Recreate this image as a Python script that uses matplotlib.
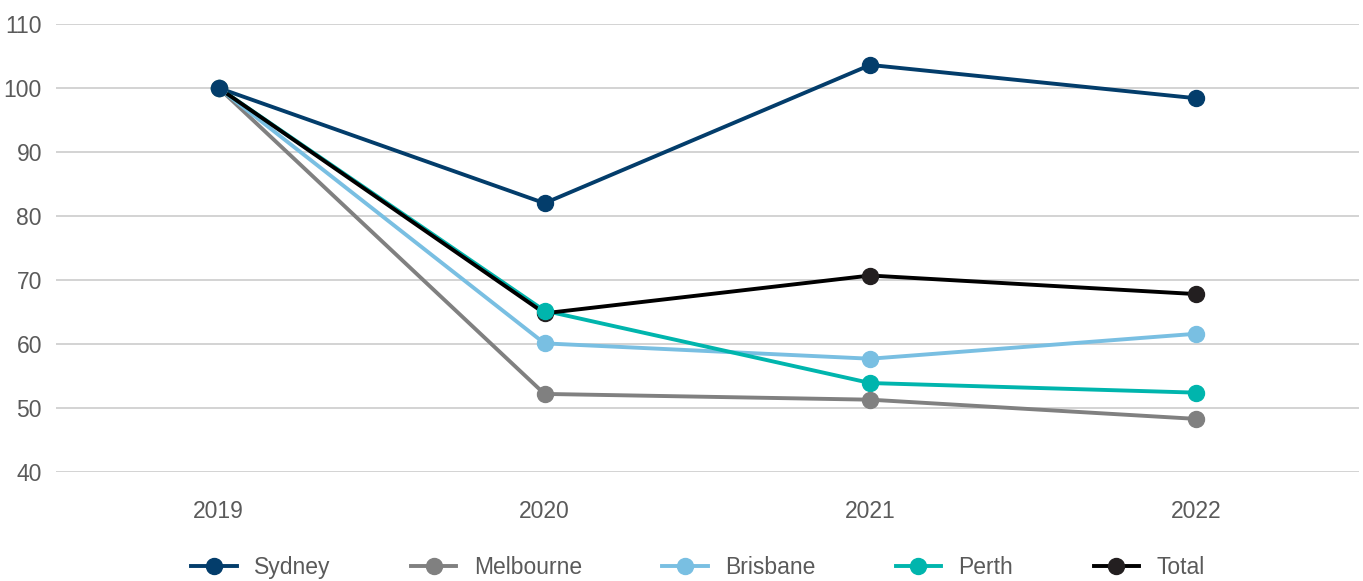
import matplotlib.pyplot as plt
import numpy as np

years = ['2019', '2020', '2021', '2022']
sydney = [100, 82.0, 103.6, 98.4]
melbourne = [100, 52.2, 51.3, 48.3]
brisbane = [100, 60.1, 57.7, 61.6]
perth = [100, 65.2, 53.9, 52.4]
total = [100, 64.8, 70.7, 67.8]

series = [('Sydney', sydney, '#033d6b', '#033d6b'),
          ('Melbourne', melbourne, '#808080', '#808080'),
          ('Brisbane', brisbane, '#79bfe2', '#79bfe2'),
          ('Perth', perth, '#00b5ad', '#00b5ad'),
          ('Total', total, '#000000', '#231f20')]

plt.rcParams['font.family'] = ['Liberation Sans', 'DejaVu Sans']
fig = plt.figure(figsize=(13.63, 5.81), dpi=100)
ax = fig.add_axes([0.041, 0.1876, 0.956, 0.7711])
x = np.arange(len(years))

handles = []
for i, (name, vals, lc, mc) in enumerate(series):
    ax.plot(x, vals, color=lc, lw=2.8, zorder=3 + i * 0.1, solid_capstyle='round')
for i, (name, vals, lc, mc) in enumerate(series):
    ax.plot(x, vals, ls='none', marker='o', ms=11.5, color=mc, zorder=5 - i * 0.1)
    h, = ax.plot([], [], color=lc, lw=2.8, marker='o', ms=11.5, mfc=mc, mec=mc)
    handles.append(h)

ax.set_xlim(-0.5, 3.5)
ax.set_ylim(40, 110)
ax.set_yticks(range(40, 111, 10))
ax.set_xticks(x)
ax.set_xticklabels(years)
ax.grid(axis='y', color='#d0d0d0', lw=1.3)
ax.set_axisbelow(True)
for s in ax.spines.values():
    s.set_visible(False)
ax.tick_params(length=0, labelsize=16.5, labelcolor='#5a5a5a', pad=10)
ax.tick_params(axis='x', pad=20)

fig.legend(handles, [s[0] for s in series], loc='center', bbox_to_anchor=(0.512, 0.024),
           ncol=5, frameon=False, fontsize=16.5, labelcolor='#5a5a5a',
           handlelength=2.0, columnspacing=3.5, handletextpad=0.75)

fig.savefig('out.png', dpi=100)
